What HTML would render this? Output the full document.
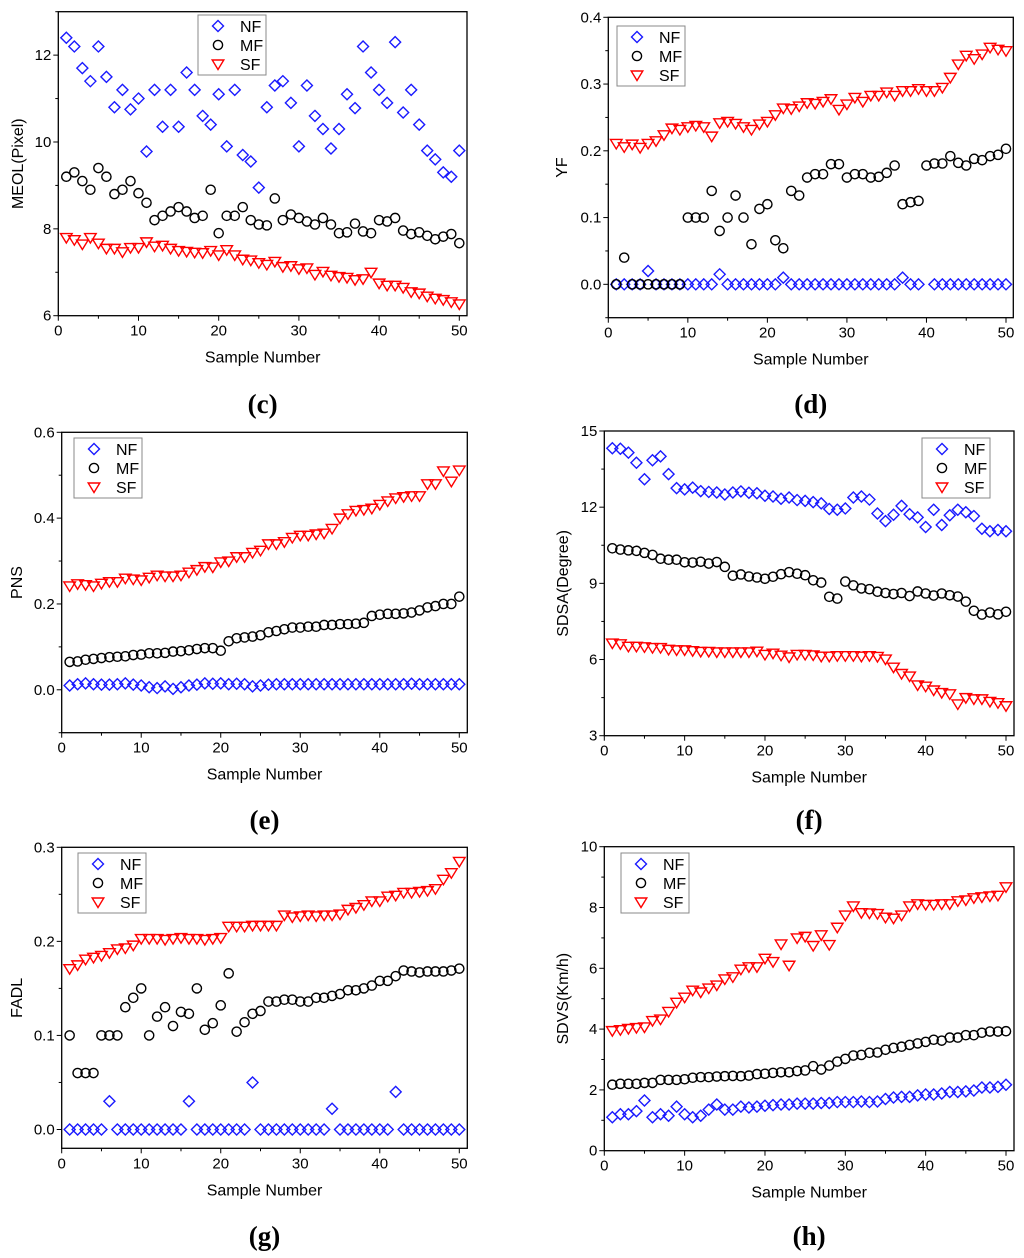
<!DOCTYPE html>
<html><head><meta charset="utf-8">
<style>
body{margin:0;background:#fff;width:1024px;height:1258px;overflow:hidden}
svg{display:block}
text{font-family:"Liberation Sans",sans-serif}
</style></head>
<body>
<svg id="fig" width="1024" height="1258" viewBox="0 0 1024 1258" xmlns="http://www.w3.org/2000/svg"></svg>
<script>
const sampleNumbers = Array.from({length:50},(_,i)=>i+1);
const xTicks = [0,10,20,30,40,50];
// (c) MEOL
const cNF=[12.4,12.2,11.7,11.4,12.2,11.5,10.8,11.2,10.75,11.0,9.78,11.2,10.35,11.2,10.35,11.6,11.2,10.6,10.4,11.1,9.9,11.2,9.7,9.55,8.95,10.8,11.3,11.4,10.9,9.9,11.3,10.6,10.3,9.85,10.3,11.1,10.78,12.2,11.6,11.2,10.9,12.3,10.68,11.2,10.4,9.8,9.6,9.3,9.2,9.8];
const cMF=[9.2,9.3,9.1,8.9,9.4,9.2,8.8,8.9,9.1,8.82,8.6,8.2,8.3,8.4,8.5,8.4,8.25,8.3,8.9,7.9,8.3,8.3,8.5,8.2,8.1,8.08,8.7,8.2,8.33,8.25,8.17,8.1,8.25,8.1,7.9,7.92,8.12,7.94,7.9,8.2,8.17,8.25,7.96,7.88,7.92,7.84,7.76,7.82,7.88,7.67];
const cSF=[7.8,7.75,7.65,7.8,7.67,7.55,7.55,7.47,7.57,7.57,7.7,7.6,7.62,7.55,7.5,7.48,7.46,7.45,7.5,7.4,7.52,7.4,7.3,7.28,7.22,7.18,7.25,7.13,7.15,7.08,7.1,6.95,7.02,6.93,6.9,6.88,6.83,6.85,7.0,6.75,6.7,6.7,6.65,6.55,6.52,6.45,6.4,6.37,6.32,6.27];
const cYTicks=[6,8,10,12];
// (d) YF
const dNF=[0,0,0,0,0.02,0,0,0,0,0,0,0,0,0.015,0,0,0,0,0,0,0,0.01,0,0,0,0,0,0,0,0,0,0,0,0,0,0,0.01,0,0,null,0,0,0,0,0,0,0,0,0,0];
const dMF=[0,0.04,0,0,0,0,0,0,0,0.1,0.1,0.1,0.14,0.08,0.1,0.133,0.1,0.06,0.113,0.12,0.066,0.054,0.14,0.133,0.16,0.165,0.165,0.18,0.18,0.16,0.165,0.165,0.16,0.161,0.167,0.178,0.12,0.123,0.125,0.178,0.181,0.181,0.192,0.182,0.178,0.188,0.186,0.192,0.194,0.203];
const dSF=[0.211,0.206,0.21,0.205,0.211,0.215,0.224,0.234,0.232,0.236,0.238,0.236,0.222,0.242,0.244,0.241,0.236,0.232,0.24,0.244,0.254,0.264,0.263,0.267,0.272,0.271,0.274,0.278,0.262,0.27,0.28,0.274,0.283,0.283,0.288,0.283,0.29,0.29,0.293,0.29,0.29,0.295,0.31,0.33,0.343,0.338,0.345,0.355,0.352,0.35];
const dYTicks=[0.0,0.1,0.2,0.3,0.4];
// (e) PNS
const eNF=[0.01,0.013,0.015,0.013,0.012,0.012,0.013,0.015,0.012,0.01,0.006,0.004,0.008,0.002,0.006,0.01,0.012,0.015,0.014,0.015,0.013,0.014,0.013,0.008,0.01,0.012,0.013,0.013,0.013,0.013,0.013,0.013,0.013,0.013,0.013,0.013,0.013,0.013,0.013,0.013,0.013,0.013,0.013,0.014,0.013,0.013,0.013,0.013,0.013,0.013];
const eMF=[0.065,0.066,0.07,0.072,0.074,0.076,0.077,0.078,0.081,0.082,0.085,0.085,0.086,0.089,0.09,0.092,0.095,0.097,0.097,0.091,0.113,0.12,0.122,0.124,0.127,0.134,0.137,0.141,0.145,0.145,0.147,0.147,0.151,0.151,0.153,0.153,0.154,0.156,0.172,0.175,0.177,0.177,0.178,0.18,0.185,0.192,0.195,0.2,0.2,0.217];
const eSF=[0.242,0.247,0.245,0.242,0.248,0.252,0.252,0.26,0.258,0.256,0.262,0.267,0.265,0.265,0.267,0.274,0.28,0.287,0.286,0.298,0.3,0.31,0.31,0.32,0.325,0.34,0.34,0.345,0.355,0.36,0.36,0.363,0.365,0.376,0.4,0.41,0.418,0.42,0.423,0.432,0.44,0.447,0.45,0.452,0.452,0.48,0.48,0.51,0.486,0.512];
const eYTicks=[0.0,0.2,0.4,0.6];
// (f) SDSA
const fNF=[14.32,14.3,14.15,13.75,13.1,13.85,14.0,13.3,12.75,12.7,12.77,12.63,12.6,12.58,12.5,12.58,12.62,12.57,12.55,12.45,12.42,12.33,12.38,12.28,12.25,12.2,12.15,11.93,11.9,11.95,12.38,12.42,12.3,11.75,11.45,11.7,12.05,11.72,11.6,11.22,11.9,11.3,11.68,11.9,11.8,11.65,11.15,11.05,11.1,11.05];
const fMF=[10.38,10.33,10.3,10.28,10.2,10.12,9.97,9.93,9.93,9.83,9.82,9.85,9.78,9.84,9.65,9.3,9.35,9.27,9.23,9.18,9.26,9.36,9.44,9.38,9.32,9.12,9.03,8.47,8.4,9.07,8.92,8.8,8.77,8.67,8.62,8.58,8.62,8.5,8.68,8.6,8.52,8.6,8.53,8.48,8.28,7.92,7.77,7.85,7.78,7.88];
const fSF=[6.65,6.62,6.52,6.52,6.5,6.47,6.47,6.4,6.38,6.38,6.35,6.32,6.32,6.3,6.3,6.3,6.3,6.3,6.33,6.2,6.25,6.17,6.1,6.2,6.2,6.18,6.13,6.13,6.15,6.15,6.15,6.13,6.15,6.12,6.02,5.7,5.45,5.35,5.0,4.95,4.8,4.7,4.65,4.25,4.5,4.45,4.45,4.35,4.3,4.18];
const fYTicks=[3,6,9,12,15];
// (g) FADL
const gNF=[0,0,0,0,0,0.03,0,0,0,0,0,0,0,0,0,0.03,0,0,0,0,0,0,0,0.05,0,0,0,0,0,0,0,0,0,0.022,0,0,0,0,0,0,0,0.04,0,0,0,0,0,0,0,0];
const gMF=[0.1,0.06,0.06,0.06,0.1,0.1,0.1,0.13,0.14,0.15,0.1,0.12,0.13,0.11,0.125,0.123,0.15,0.106,0.113,0.132,0.166,0.104,0.114,0.123,0.126,0.136,0.136,0.138,0.138,0.136,0.136,0.14,0.14,0.142,0.144,0.148,0.148,0.15,0.153,0.158,0.158,0.163,0.169,0.168,0.167,0.168,0.168,0.168,0.169,0.171];
const gSF=[0.171,0.175,0.181,0.183,0.185,0.188,0.192,0.193,0.196,0.203,0.203,0.203,0.202,0.203,0.204,0.203,0.203,0.202,0.203,0.204,0.216,0.216,0.216,0.217,0.217,0.217,0.217,0.228,0.226,0.227,0.228,0.227,0.228,0.228,0.229,0.234,0.236,0.239,0.243,0.243,0.248,0.249,0.252,0.252,0.253,0.254,0.256,0.266,0.273,0.285];
const gYTicks=[0.0,0.1,0.2,0.3];
// (h) SDVS
const hNF=[1.1,1.2,1.2,1.3,1.65,1.1,1.2,1.15,1.45,1.2,1.1,1.15,1.35,1.52,1.35,1.35,1.45,1.42,1.45,1.48,1.5,1.52,1.52,1.55,1.55,1.55,1.57,1.57,1.6,1.6,1.6,1.62,1.6,1.62,1.7,1.75,1.77,1.77,1.82,1.85,1.85,1.88,1.93,1.93,1.95,1.98,2.08,2.08,2.1,2.17];
const hMF=[2.17,2.2,2.2,2.2,2.23,2.23,2.33,2.33,2.33,2.35,2.4,2.42,2.42,2.44,2.45,2.46,2.45,2.47,2.52,2.53,2.56,2.58,2.58,2.62,2.64,2.78,2.67,2.8,2.93,3.02,3.13,3.15,3.22,3.23,3.32,3.38,3.42,3.48,3.53,3.58,3.65,3.62,3.72,3.72,3.8,3.8,3.88,3.92,3.92,3.93];
const hSF=[3.95,3.98,4.02,4.05,4.07,4.28,4.33,4.58,4.88,5.05,5.28,5.22,5.35,5.45,5.65,5.72,5.97,6.05,6.05,6.33,6.22,6.8,6.1,7.0,7.05,6.75,7.1,6.78,7.35,7.75,8.05,7.83,7.82,7.8,7.68,7.65,7.75,8.05,8.12,8.1,8.1,8.12,8.12,8.22,8.25,8.32,8.35,8.38,8.4,8.68];
const hYTicks=[0,2,4,6,8,10];

const NS='http://www.w3.org/2000/svg';
const svg=document.getElementById('fig');
function mk(tag,attrs,parent){const e=document.createElementNS(NS,tag);for(const k in attrs)e.setAttribute(k,attrs[k]);(parent||svg).appendChild(e);return e;}

function panel(p){
  const g=mk('g',{});
  
  
  const sx=v=>p.x0+(v-0)*(p.x50-p.x0)/50;
  const sy=v=>p.yb+(v-p.ymin)*(p.yt-p.yb)/(p.ymax-p.ymin);
  const L=p.left,R=p.right,T=sy(p.ymax),B=sy(p.ymin);
  const frame=mk('rect',{x:L,y:T,width:R-L,height:B-T,fill:'none',stroke:'#000','stroke-width':1.3},g);
  
  
  for(let v=0;v<=50;v+=5){
    const x=sx(v);const maj=v%10===0;
    mk('line',{x1:x,x2:x,y1:B,y2:B+(maj?5:3),stroke:'#000','stroke-width':1},g);
  }
  xTicks.forEach(v=>{
    const t=mk('text',{x:sx(v),y:B+20,'font-size':15,'text-anchor':'middle'},g);t.textContent=String(v);
    
    
  });
  const step=p.yticks[1]-p.yticks[0];
  for(let v=p.yticks[0]-step;v<=p.ymax+1e-9;v+=step/2){
    if(v<p.ymin-1e-9)continue;
    const y=sy(v);const maj=Math.abs(Math.round((v-p.yticks[0])/step)*step-(v-p.yticks[0]))<1e-9;
    mk('line',{x1:L,x2:L-(maj?5:3),y1:y,y2:y,stroke:'#000','stroke-width':1},g);
  }
  p.yticks.forEach(v=>{
    const t=mk('text',{x:L-7,y:sy(v)+5,'font-size':15,'text-anchor':'end'},g);t.textContent=v.toFixed(p.dec);
    
    
  });
  const xt=mk('text',{x:(L+R)/2,y:B+47,'font-size':16,'text-anchor':'middle'},g);xt.textContent='Sample Number';
  
  
  const ytx=p.ytx, yty=(T+B)/2;
  const yt=mk('text',{x:ytx,y:yty,'font-size':16,'text-anchor':'middle',transform:`rotate(-90 ${ytx} ${yty})`},g);yt.textContent=p.ytitle;
  
  
  const lab=mk('text',{x:(L+R)/2,y:p.labY,'font-size':27,'font-weight':'bold','text-anchor':'middle',style:'font-family:"Liberation Serif",serif'},g);lab.textContent='('+p.id+')';
  
  
  const series=[['nf',p.nf],['mf',p.mf],['sf',p.sf]];
  series.forEach(([name,arr])=>{
    const sg=mk('g',{},g);
    
    
    arr.forEach((v,i)=>{
      if(v===null)return;
      const m=marker(name,sx(sampleNumbers[i]),sy(v),sg);
      
      
    });
  });
  const lg=mk('g',{},g);
  
  
  mk('rect',{x:p.lx,y:p.ly,width:68,height:60,fill:'#fff',stroke:'#888','stroke-width':1},lg);
  [['nf','NF'],['mf','MF'],['sf','SF']].forEach(([n,t],k)=>{
    const cy=p.ly+11+k*19;
    const m=marker(n,p.lx+20,cy,lg);
    
    
    const tx=mk('text',{x:p.lx+42,y:cy+6,'font-size':16},lg);tx.textContent=t;
    
    
  });
}
function marker(n,x,y,par){
  if(n==='nf') return mk('path',{d:`M${x} ${y-5.5}L${x+5.5} ${y}L${x} ${y+5.5}L${x-5.5} ${y}Z`,fill:'none',stroke:'#1a1aff','stroke-width':1.4},par);
  if(n==='mf') return mk('circle',{cx:x,cy:y,r:4.6,fill:'none',stroke:'#000','stroke-width':1.4},par);
  return mk('path',{d:`M${x-5.8} ${y-4}L${x+5.8} ${y-4}L${x} ${y+5.5}Z`,fill:'none',stroke:'#ff0000','stroke-width':1.4},par);
}
panel({id:'c',left:58.3,right:467,x0:58.3,x50:459.3,yb:315.7,yt:11.7,ymin:6,ymax:13,yticks:cYTicks,dec:0,ytitle:'MEOL(Pixel)',ytx:23,labY:413,nf:cNF,mf:cMF,sf:cSF,lx:198,ly:15});
panel({id:'d',left:608.3,right:1013.3,x0:608.3,x50:1006,yb:317.7,yt:17.3,ymin:-0.05,ymax:0.4,yticks:dYTicks,dec:1,ytitle:'YF',ytx:567,labY:413,nf:dNF,mf:dMF,sf:dSF,lx:617,ly:26});
panel({id:'e',left:61.7,right:467.3,x0:61.7,x50:459.3,yb:732.7,yt:432.3,ymin:-0.1,ymax:0.6,yticks:eYTicks,dec:1,ytitle:'PNS',ytx:22,labY:829,nf:eNF,mf:eMF,sf:eSF,lx:74,ly:438});
panel({id:'f',left:604.3,right:1014,x0:604.3,x50:1006,yb:735.7,yt:431,ymin:3,ymax:15,yticks:fYTicks,dec:0,ytitle:'SDSA(Degree)',ytx:568,labY:829,nf:fNF,mf:fMF,sf:fSF,lx:922,ly:438});
panel({id:'g',left:61.7,right:467.3,x0:61.7,x50:459.3,yb:1148.3,yt:847.3,ymin:-0.02,ymax:0.3,yticks:gYTicks,dec:1,ytitle:'FADL',ytx:22,labY:1245,nf:gNF,mf:gMF,sf:gSF,lx:78,ly:853});
panel({id:'h',left:604.3,right:1014,x0:604.3,x50:1006,yb:1150.7,yt:846.7,ymin:0,ymax:10,yticks:hYTicks,dec:0,ytitle:'SDVS(Km/h)',ytx:568,labY:1245,nf:hNF,mf:hMF,sf:hSF,lx:621,ly:853});
</script>
</body></html>
